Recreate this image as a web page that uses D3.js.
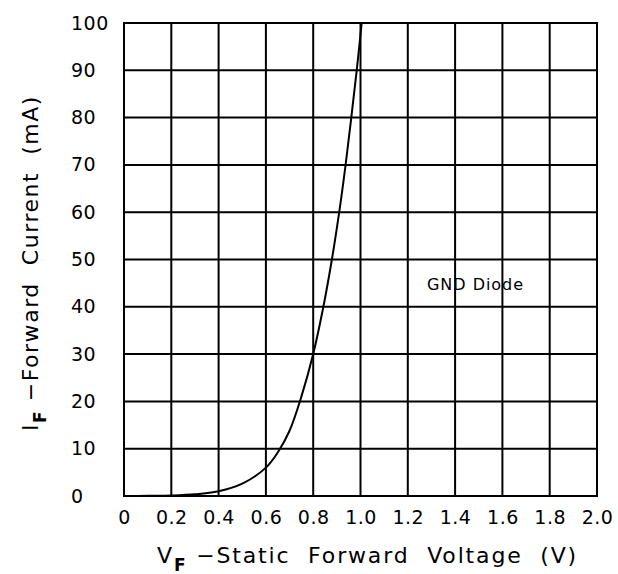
<!DOCTYPE html>
<html><head><meta charset="utf-8">
<script src="https://cdn.jsdelivr.net/npm/d3@7/dist/d3.min.js"></script>
<style>body{margin:0;background:#fff}svg{display:block}text{white-space:pre}</style>
</head><body>
<script>
const voltage = [0, 0.1, 0.2, 0.3, 0.4, 0.5, 0.6, 0.65, 0.7, 0.75, 0.8, 0.843, 0.879, 0.91, 0.937, 0.961, 0.984, 1.005];
const current = [0, 0.03, 0.1, 0.35, 1.0, 2.6, 6.0, 9.2, 13.8, 21, 30, 40, 50, 60, 70, 80, 90, 100];
const xTicks = [0, 0.2, 0.4, 0.6, 0.8, 1.0, 1.2, 1.4, 1.6, 1.8, 2.0];
const xTickLabels = ["0", "0.2", "0.4", "0.6", "0.8", "1.0", "1.2", "1.4", "1.6", "1.8", "2.0"];
const yTicks = [0, 10, 20, 30, 40, 50, 60, 70, 80, 90, 100];
const yTickLabels = ["0", "10", "20", "30", "40", "50", "60", "70", "80", "90", "100"];
const annotation = "GND Diode";

const W = 618, H = 574;
const m = {left: 124, top: 23, right: 21, bottom: 78};
const font = "DejaVu Sans, sans-serif";
const svg = d3.select("body").append("svg").attr("width", W).attr("height", H);
const x = d3.scaleLinear().domain([0, 2]).range([m.left, W - m.right]);
const y = d3.scaleLinear().domain([0, 100]).range([H - m.bottom, m.top]);

function fitWidth(sel, target) {
  const n = sel.text().length;
  const w = sel.node().getComputedTextLength();
  sel.attr("letter-spacing", (target - w) / n);
}

const g = svg.append("g");
g.selectAll(".vx").data(xTicks).join("line")
  .attr("x1", d => x(d)).attr("x2", d => x(d))
  .attr("y1", y(0) + 1).attr("y2", y(100) - 1)
  .attr("stroke", "#000").attr("stroke-width", 2);
g.selectAll(".hy").data(yTicks).join("line")
  .attr("y1", d => y(d)).attr("y2", d => y(d))
  .attr("x1", x(0) - 1).attr("x2", x(2) + 1)
  .attr("stroke", "#000").attr("stroke-width", 2);

const xAxis = d3.axisBottom(x).tickValues(xTicks).tickFormat((d, i) => xTickLabels[i]).tickSize(0).tickPadding(15);
const xa = svg.append("g").attr("transform", `translate(0,${y(0)})`).call(xAxis);
xa.select(".domain").remove();
xa.selectAll("text").attr("font-family", font).attr("font-size", 19).attr("fill", "#000")
  .attr("letter-spacing", 0.5);

const yAxis = d3.axisLeft(y).tickValues(yTicks).tickFormat((d, i) => yTickLabels[i]).tickSize(0);
const ya = svg.append("g").attr("transform", `translate(${m.left},0)`).call(yAxis);
ya.select(".domain").remove();
ya.selectAll("text").attr("font-family", font).attr("font-size", 19).attr("fill", "#000")
  .attr("text-anchor", "start").attr("x", 71 - m.left).attr("letter-spacing", 0.5);

const pts = voltage.map((v, i) => [v, current[i]]);
svg.append("path").datum(pts)
  .attr("d", d3.line().x(d => x(d[0])).y(d => y(d[1])).curve(d3.curveCatmullRom.alpha(0.5)))
  .attr("fill", "none").attr("stroke", "#000").attr("stroke-width", 2);

const an = svg.append("text").attr("x", 427).attr("y", 290)
  .attr("font-family", font).attr("font-size", 16).attr("fill", "#000").text(annotation);
fitWidth(an, 97);

const xt = svg.append("text").attr("x", 157).attr("y", 563)
  .attr("font-family", font).attr("font-size", 22).attr("fill", "#000");
xt.append("tspan").text("V");
xt.append("tspan").attr("dy", 8).attr("font-size", 17).attr("font-weight", "bold").text("F");
xt.append("tspan").attr("dy", -8).text(" \u2212Static  Forward  Voltage  (V)");
fitWidth(xt, 421);

const yt = svg.append("text").attr("transform", "translate(38,431) rotate(-90)")
  .attr("font-family", font).attr("font-size", 22).attr("fill", "#000");
yt.append("tspan").text("I");
yt.append("tspan").attr("dy", 8).attr("font-size", 17).attr("font-weight", "bold").text("F");
yt.append("tspan").attr("dy", -8).text(" \u2212Forward  Current  (mA)");
fitWidth(yt, 336);
</script>
</body></html>
